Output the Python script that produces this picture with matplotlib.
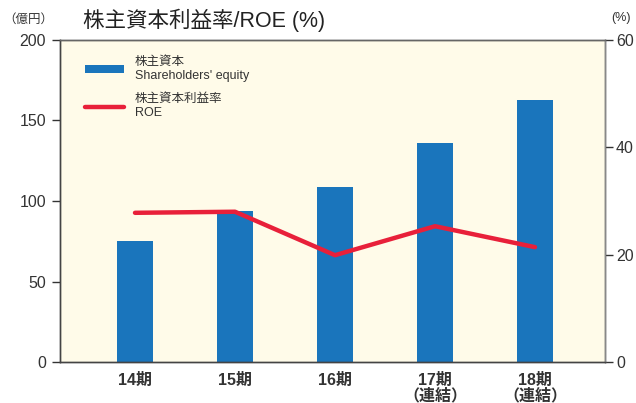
import numpy as np
import matplotlib.pyplot as plt

plt.rcParams['font.family'] = ['Liberation Sans', 'Noto Sans CJK JP', 'DejaVu Sans']

periods = ['14期', '15期', '16期', '17期\n（連結）', '18期\n（連結）']
equity = [75, 94, 109, 136, 163]   # 億円
roe = [27.8, 28.0, 19.9, 25.3, 21.4]  # %

fig = plt.figure(figsize=(6.36, 4.03), dpi=100)
ax = fig.add_axes([60 / 636, 1 - 362 / 403, 545 / 636, 322 / 403])
ax.set_facecolor('#fffbe9')

x = np.arange(len(periods))
ax.bar(x, equity, width=0.36, color='#1a75bc', zorder=2,
       label="株主資本\nShareholders' equity")
ax.set_xlim(-0.75, 4.70)
ax.set_ylim(0, 200)
ax.set_yticks([0, 50, 100, 150, 200])
ax.set_xticks(x)
ax.set_xticklabels(periods, fontsize=11.5, fontweight='bold', color='#333333',
                   linespacing=1.0)
ax.tick_params(axis='x', length=0, pad=8)
ax.tick_params(axis='y', length=6, width=1, colors='#333333', labelsize=11.5, pad=4)

ax2 = ax.twinx()
ax2.plot(x, roe, color='#e8203a', lw=3.2, solid_capstyle='round', zorder=3,
         label='株主資本利益率\nROE')
ax2.set_ylim(0, 60)
ax2.set_yticks([0, 20, 40, 60])
ax2.tick_params(axis='y', length=6, width=1, colors='#333333', labelsize=11.5, pad=2)

for a in (ax, ax2):
    for s in a.spines.values():
        s.set_color('#444444')
        s.set_linewidth(1)
ax2.spines['right'].set_color('#888888')
ax2.spines['top'].set_color('#666666')

h1, l1 = ax.get_legend_handles_labels()
h2, l2 = ax2.get_legend_handles_labels()
ax2.legend(h1 + h2, l1 + l2, loc='upper left', bbox_to_anchor=(0.025, 0.985),
           frameon=False, fontsize=9, handlelength=3.1, handleheight=0.5,
           labelspacing=0.9, handletextpad=0.9, labelcolor='#333333')

fig.text(83 / 636, 1 - 20 / 403, '株主資本利益率/ROE (%)', fontsize=15.5,
         color='#222222', va='center', ha='left')
fig.text(3 / 636, 1 - 20 / 403, '（億円）', fontsize=9, color='#333333',
         va='center', ha='left')
fig.text(611 / 636, 1 - 18 / 403, '(%)', fontsize=9, color='#333333',
         va='center', ha='left')

fig.savefig('out.png', dpi=100)
